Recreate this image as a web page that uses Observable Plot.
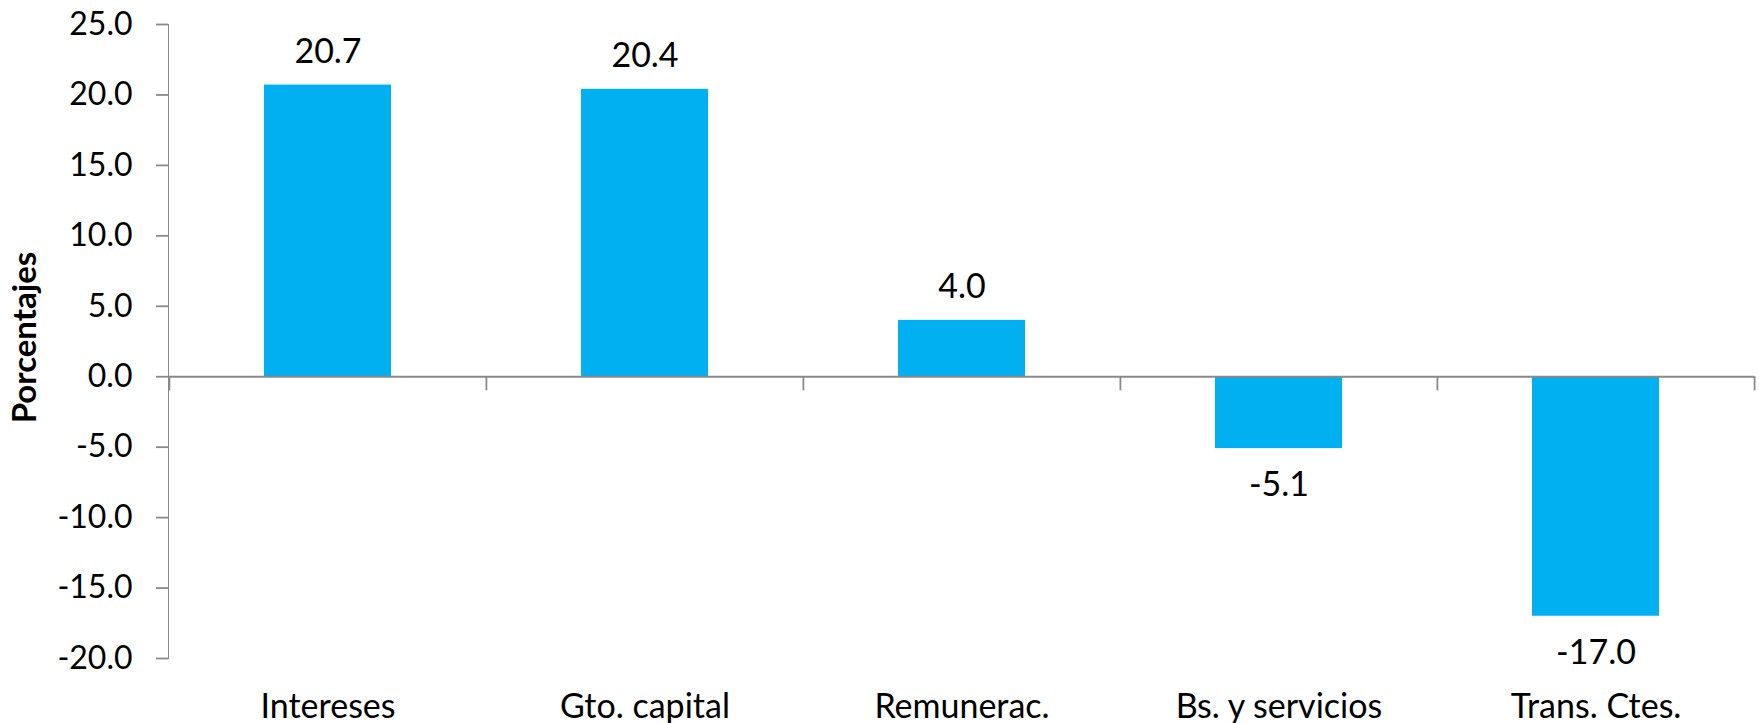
<!DOCTYPE html>
<html><head><meta charset="utf-8">
<script src="https://cdn.jsdelivr.net/npm/d3@7"></script>
<script src="https://cdn.jsdelivr.net/npm/@observablehq/plot@0.6"></script>
<style>
body{margin:0;background:#fff}
#chart svg text{fill:#000}
#chart svg [aria-label^="x-axis"] text{font-size:34px}
#chart svg [aria-label*="axis"] path, #chart svg [aria-label*="axis"] line{stroke:#898989;stroke-width:1.8px}
</style></head><body><div id="chart"></div>
<script>
const categories = ["Intereses","Gto. capital","Remunerac.","Bs. y servicios","Trans. Ctes."];
const values = [20.7, 20.4, 4.0, -5.1, -17.0];
const yTicks = [-20,-15,-10,-5,0,5,10,15,20,25];
const yLabel = "Porcentajes";

const data = categories.map((c,i)=>({cat:c, value:values[i]}));
const W=1759, H=723, mL=168, mR=5, mT=24, mB=65;
const step = (W-mL-mR)/categories.length;
const last = categories[categories.length-1];

const plot = Plot.plot({
  width:W, height:H, marginLeft:mL, marginRight:mR, marginTop:mT, marginBottom:mB,
  style:{fontFamily:"Lato, sans-serif", fontSize:"32px", color:"#898989", background:"#fff", overflow:"visible"},
  x:{domain:categories, paddingInner:0.6, paddingOuter:0.3, tickSize:0, tickPadding:35, label:null},
  y:{domain:[-20,25], ticks:yTicks, tickSize:12, tickPadding:24, tickFormat:d=>d.toFixed(1), line:true, label:null},
  marks:[
    Plot.barY(data, {x:"cat", y:"value", fill:"#00B0F0"}),
    Plot.ruleY([0], {stroke:"#898989", strokeWidth:2}),
    Plot.ruleX(categories, {x:d=>d, dx:-step/2, y1:0, y2:-1, stroke:"#898989", strokeWidth:1.8}),
    Plot.ruleX([last], {x:d=>d, dx:step/2, y1:0, y2:-1, stroke:"#898989", strokeWidth:1.8}),
    Plot.text(data.filter(d=>d.value>=0), {x:"cat", y:"value", text:d=>d.value.toFixed(1), dy:-33, fill:"#000", fontSize:34}),
    Plot.text(data.filter(d=>d.value<0), {x:"cat", y:"value", text:d=>d.value.toFixed(1), dy:37, fill:"#000", fontSize:34}),
    Plot.text([yLabel], {text:d=>d, frameAnchor:"left", textAnchor:"middle", dx:-143, dy:-4, rotate:-90, fontWeight:"bold", fontSize:33, fill:"#000"})
  ]
});
document.getElementById("chart").appendChild(plot);
</script></body></html>
